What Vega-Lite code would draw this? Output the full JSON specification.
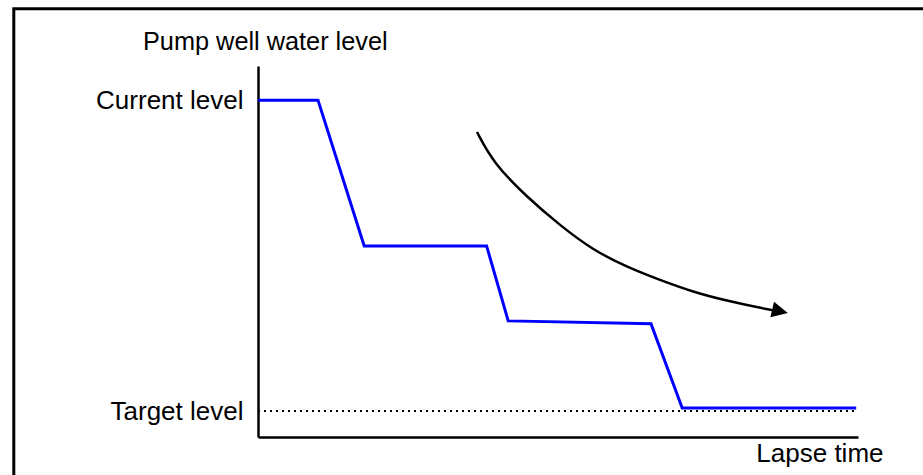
{
  "$schema": "https://vega.github.io/schema/vega-lite/v6.json",
  "width": 600,
  "height": 371,
  "autosize": {"type": "none"},
  "padding": {"left": 258, "top": 66, "right": 65, "bottom": 38},
  "background": "white",
  "config": {
    "view": {"stroke": null},
    "font": "Liberation Sans",
    "axis": {"grid": false, "ticks": false, "domainColor": "black", "domainWidth": 2.5, "labelColor": "black", "titleColor": "black", "titleFontWeight": "normal", "titleFontSize": 26, "labelFontSize": 26}
  },
  "datasets": {
    "level": [
      {"t": 0, "level": 90.8},
      {"t": 10, "level": 90.8},
      {"t": 17.7, "level": 51.5},
      {"t": 38.1, "level": 51.5},
      {"t": 41.7, "level": 31.3},
      {"t": 65.5, "level": 30.5},
      {"t": 70.7, "level": 7.8},
      {"t": 99.7, "level": 7.8}
    ],
    "arrow": [
      {"t": 36.5, "level": 82.2},
      {"t": 39.2, "level": 73.9},
      {"t": 44.8, "level": 64.7},
      {"t": 50.3, "level": 57.1},
      {"t": 55.8, "level": 50.4},
      {"t": 61.5, "level": 45.8},
      {"t": 67.0, "level": 42.3},
      {"t": 72.5, "level": 39.1},
      {"t": 78.2, "level": 36.7},
      {"t": 83.7, "level": 34.8},
      {"t": 85.7, "level": 34.2}
    ],
    "head": [{"t": 87.0, "level": 33.9}],
    "target": [{"t": 0, "t2": 99.7, "level": 7.0}],
    "frame": [{"t": -40.7, "t2": 112, "level": -12, "level2": 115.4}]
  },
  "encoding": {
    "x": {
      "field": "t", "type": "quantitative",
      "scale": {"domain": [0, 100], "nice": false, "zero": false},
      "axis": {"title": "Lapse time", "labels": false, "titleX": 625, "titleAlign": "right", "titleY": 24, "titleBaseline": "alphabetic"}
    },
    "y": {
      "field": "level", "type": "quantitative",
      "scale": {"domain": [0, 100], "nice": false, "zero": false},
      "axis": {"title": "Pump well water level", "titleFontSize": 25.3, "titleAngle": 0, "titleAlign": "left", "titleBaseline": "alphabetic", "titleX": -115.5, "titleY": -17, "values": [7.0, 90.8], "labelExpr": "datum.value > 50 ? 'Current level' : 'Target level'", "labelPadding": 15}
    }
  },
  "layer": [
    {
      "data": {"name": "frame"},
      "mark": {"type": "rect", "filled": false, "stroke": "black", "strokeWidth": 3, "clip": false},
      "encoding": {
        "x2": {"field": "t2"},
        "y2": {"field": "level2"}
      }
    },
    {
      "data": {"name": "target"},
      "mark": {"type": "rule", "color": "black", "strokeWidth": 2, "strokeDash": [2, 4]},
      "encoding": {
        "x2": {"field": "t2"}
      }
    },
    {
      "data": {"name": "level"},
      "mark": {"type": "line", "color": "#0000ff", "strokeWidth": 3},
      "encoding": {}
    },
    {
      "data": {"name": "arrow"},
      "mark": {"type": "line", "color": "black", "strokeWidth": 2.5, "interpolate": "basis"},
      "encoding": {}
    },
    {
      "data": {"name": "head"},
      "mark": {"type": "point", "shape": "M-1,-1L1,0L-1,1Z", "filled": true, "color": "black", "size": 256, "angle": 13, "opacity": 1},
      "encoding": {}
    }
  ]
}
